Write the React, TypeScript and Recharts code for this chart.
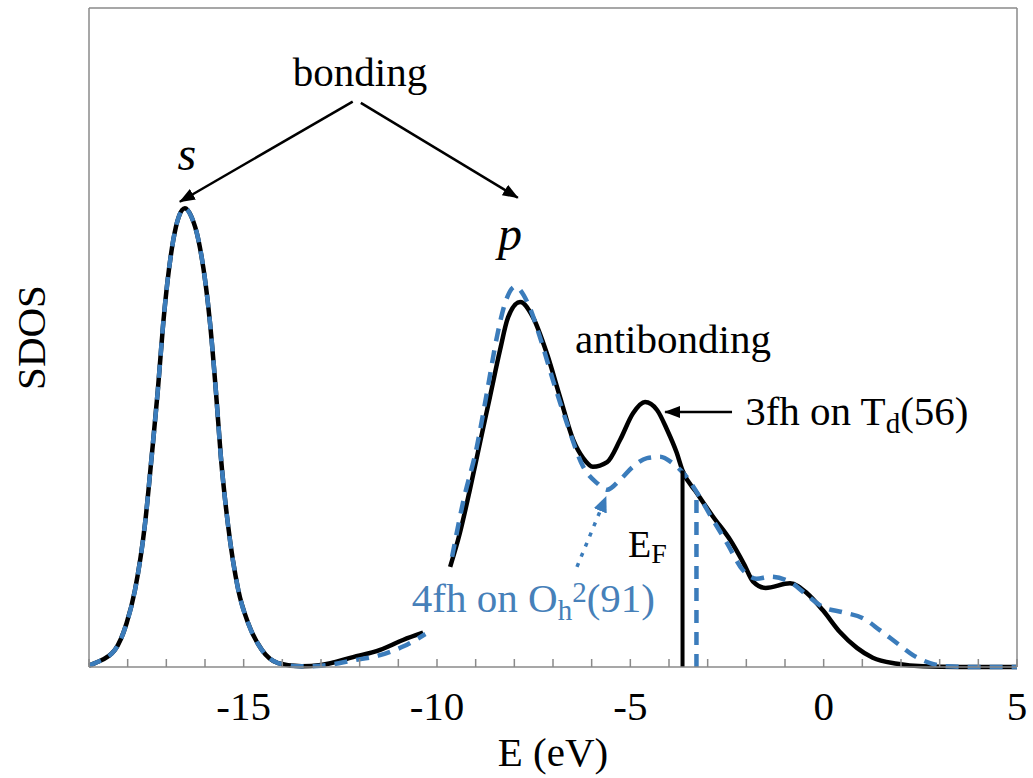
import React from "react"
import { LineChart, Line, XAxis, YAxis, ReferenceLine, ReferenceDot } from "recharts"

const FONT = '"Liberation Serif", "Times New Roman", serif'
const BLUE = "#3b7cbb"
const TEXT_BLUE = "#4680b9"
const AXIS = "#8a8a8a"

// 3fh on Td(56) - solid black
const eTd = [
  -19.0, -18.84, -18.33, -18.03, -17.81, -17.55, -17.38, -17.22, -17.08, -16.82, -16.68, -16.52,
  -16.35, -16.17, -15.87, -15.72, -15.59, -15.41, -15.14, -14.88, -14.53, -14.11, -13.5, -13.0,
  -12.17, -11.47, -10.88, -10.36, -10.0, -9.66, -9.41, -9.15, -8.89, -8.63, -8.37, -8.16, -7.85,
  -7.52, -7.16, -6.82, -6.48, -6.22, -5.97, -5.6, -5.27, -4.93, -4.62, -4.31, -4.05, -3.8, -3.65,
  -3.28, -2.86, -2.42, -2.05, -1.83, -1.5, -0.87, -0.43, -0.02, 0.42, 0.86, 1.27, 1.9, 2.57, 3.5, 5.0,
]
const sdosTd = [
  0.002, 0.006, 0.026, 0.066, 0.117, 0.218, 0.319, 0.42, 0.522, 0.648, 0.683, 0.696,
  0.683, 0.648, 0.522, 0.42, 0.319, 0.218, 0.117, 0.066, 0.026, 0.006, 0.001, 0.003,
  0.015, 0.026, 0.041, 0.052, null, 0.152, 0.203, 0.269, 0.34, 0.41, 0.481, 0.531, 0.554,
  0.531, 0.476, 0.41, 0.345, 0.317, 0.304, 0.311, 0.344, 0.385, 0.402, 0.39, 0.36, 0.325, 0.298,
  0.264, 0.228, 0.193, 0.155, 0.13, 0.12, 0.127, 0.112, 0.086, 0.053, 0.029, 0.014, 0.005, 0.001, 0, 0,
]

// 4fh on Oh2(91) - dashed blue
const eOh = [
  -19.0, -18.84, -18.33, -18.03, -17.81, -17.55, -17.38, -17.22, -17.08, -16.82, -16.68, -16.52,
  -16.35, -16.17, -15.87, -15.72, -15.59, -15.41, -15.14, -14.88, -14.53, -14.11, -13.5, -13.0,
  -12.17, -11.47, -10.88, -10.3, -10.0, -9.61, -9.33, -8.97, -8.71, -8.45, -8.24, -7.98, -7.65,
  -7.34, -7.0, -6.64, -6.22, -5.86, -5.6, -5.27, -4.93, -4.57, -4.23, -3.9, -3.54, -3.29,
  -2.86, -2.5, -2.09, -1.73, -1.39, -0.87, -0.43, -0.02, 0.5, 1.02, 1.45, 1.9, 2.31, 2.75, 3.19, 4.0, 5.0,
]
const sdosOh = [
  0.002, 0.006, 0.026, 0.066, 0.117, 0.218, 0.319, 0.42, 0.522, 0.648, 0.683, 0.696,
  0.683, 0.648, 0.522, 0.42, 0.319, 0.218, 0.117, 0.066, 0.026, 0.006, 0.001, 0.002,
  0.01, 0.018, 0.031, 0.05, null, 0.167, 0.249, 0.334, 0.416, 0.501, 0.552, 0.577, 0.552,
  0.501, 0.435, 0.37, 0.304, 0.279, 0.269, 0.284, 0.304, 0.317, 0.319, 0.309, 0.288, 0.266,
  0.223, 0.188, 0.147, 0.134, 0.137, 0.129, 0.109, 0.091, 0.083, 0.074, 0.056, 0.036, 0.018, 0.006, 0.001, 0, 0,
]

const xTicks = [-19, -18, -17, -16, -15, -14, -13, -12, -11, -10, -9, -8, -7, -6, -5, -4, -3, -2, -1, 0, 1, 2, 3, 4, 5]
const xLabels = [-15, -10, -5, 0, 5]

// Fermi levels
const efTd = -3.65
const efOh = -3.29

const tdData = eTd.map((e, i) => ({ e, v: sdosTd[i] }))
const ohData = eOh.map((e, i) => ({ e, v: sdosOh[i] }))
const efTdTop = sdosTd[eTd.indexOf(efTd)] as number
const efOhTop = sdosOh[eOh.indexOf(efOh)] as number

const txt = (content: React.ReactNode, opts: any = {}) => (p: any) => (
  <text
    x={p.cx}
    y={p.cy}
    fontFamily={FONT}
    fontSize={opts.size || 41}
    fontStyle={opts.italic ? "italic" : "normal"}
    fill={opts.color || "#000"}
    textAnchor={opts.anchor || "start"}
  >
    {content}
  </text>
)

export default function App() {
  return (
    <div style={{ position: "absolute", left: 0, top: 0 }}>
      <svg width={0} height={0} style={{ position: "absolute" }}>
        <defs>
          <marker id="headBlack" markerWidth={16} markerHeight={12} refX={15} refY={6} orient="auto" markerUnits="userSpaceOnUse">
            <path d="M0,0 L16,6 L0,12 z" fill="#000" />
          </marker>
          <marker id="headBlue" markerWidth={16} markerHeight={14} refX={15} refY={7} orient="auto" markerUnits="userSpaceOnUse">
            <path d="M0,0 L16,7 L0,14 z" fill={BLUE} />
          </marker>
        </defs>
      </svg>
      <LineChart width={1033} height={778} margin={{ top: 0, right: 0, bottom: 0, left: 0 }}>
        <XAxis
          dataKey="e"
          type="number"
          domain={[-19, 5]}
          ticks={xTicks}
          interval={0}
          height={111}
          tickSize={-8}
          tickMargin={32}
          tickFormatter={(v: number) => (xLabels.includes(v) ? String(v) : "")}
          tick={{ fill: "#000", fontSize: 41, fontFamily: FONT }}
          axisLine={{ stroke: AXIS, strokeWidth: 1.5 }}
          tickLine={{ stroke: AXIS, strokeWidth: 1.5 }}
          label={(p: any) => (
            <text
              x={p.viewBox.x + p.viewBox.width / 2}
              y={766}
              textAnchor="middle"
              fontFamily={FONT}
              fontSize={41}
              fill="#000"
            >
              E (eV)
            </text>
          )}
        />
        <XAxis
          xAxisId="top"
          orientation="top"
          dataKey="e"
          type="number"
          domain={[-19, 5]}
          ticks={xTicks}
          interval={0}
          height={8}
          tickSize={-8}
          tickFormatter={() => ""}
          axisLine={{ stroke: AXIS, strokeWidth: 1.5 }}
          tickLine={{ stroke: AXIS, strokeWidth: 1.5 }}
        />
        <YAxis
          type="number"
          domain={[0, 1]}
          width={89}
          tick={false}
          tickLine={false}
          axisLine={{ stroke: AXIS, strokeWidth: 1.5 }}
          label={(p: any) => (
            <text
              x={0}
              y={0}
              transform={`translate(45, ${p.viewBox.y + p.viewBox.height / 2}) rotate(-90)`}
              textAnchor="middle"
              fontFamily={FONT}
              fontSize={41}
              fill="#000"
            >
              SDOS
            </text>
          )}
        />
        <YAxis
          yAxisId="right"
          orientation="right"
          type="number"
          domain={[0, 1]}
          width={16}
          tick={false}
          tickLine={false}
          axisLine={{ stroke: AXIS, strokeWidth: 1.5 }}
        />

        <Line data={tdData} dataKey="v" type="monotone" stroke="#000" strokeWidth={4.5} dot={false} activeDot={false} connectNulls={false} isAnimationActive={false} />
        <Line data={ohData} dataKey="v" type="monotone" stroke={BLUE} strokeWidth={4.5} strokeDasharray="13 9" dot={false} activeDot={false} connectNulls={false} isAnimationActive={false} />

        {/* Fermi levels */}
        <ReferenceLine segment={[{ x: efTd, y: 0 }, { x: efTd, y: efTdTop }]} stroke="#000" strokeWidth={4} />
        <ReferenceLine segment={[{ x: efOh, y: 0 }, { x: efOh, y: efOhTop }]} stroke={BLUE} strokeWidth={4.5} strokeDasharray="13 9" />

        {/* arrows */}
        <ReferenceLine segment={[{ x: -12.18, y: 0.858 }, { x: -16.65, y: 0.706 }]} stroke="#000" strokeWidth={2.5} markerEnd="url(#headBlack)" />
        <ReferenceLine segment={[{ x: -11.97, y: 0.856 }, { x: -7.91, y: 0.712 }]} stroke="#000" strokeWidth={2.5} markerEnd="url(#headBlack)" />
        <ReferenceLine segment={[{ x: -2.37, y: 0.387 }, { x: -4.1, y: 0.387 }]} stroke="#000" strokeWidth={2.5} markerEnd="url(#headBlack)" />
        <ReferenceLine segment={[{ x: -6.38, y: 0.152 }, { x: -5.63, y: 0.258 }]} stroke={BLUE} strokeWidth={3.5} strokeDasharray="4 7" markerEnd="url(#headBlue)" />

        {/* labels */}
        <ReferenceDot x={-11.99} y={0.8816} r={0} shape={txt("bonding", { anchor: "middle" })} />
        <ReferenceDot x={-16.47} y={0.754} r={0} shape={txt("s", { anchor: "middle", italic: true, size: 48 })} />
        <ReferenceDot x={-8.11} y={0.633} r={0} shape={txt("p", { anchor: "middle", italic: true, size: 48 })} />
        <ReferenceDot x={-6.43} y={0.4765} r={0} shape={txt("antibonding")} />
        <ReferenceDot
          x={-2.03}
          y={0.367}
          r={0}
          shape={txt(
            <>
              3fh on T<tspan fontSize={29} dy={8}>d</tspan>
              <tspan dy={-8}>(56)</tspan>
            </>
          )}
        />
        <ReferenceDot
          x={-5.06}
          y={0.167}
          r={0}
          shape={txt(
            <>
              E<tspan fontSize={28} dy={6}>F</tspan>
            </>,
            { size: 38 }
          )}
        />
        <ReferenceDot
          x={-10.65}
          y={0.0835}
          r={0}
          shape={txt(
            <>
              4fh on O<tspan fontSize={29} dy={8}>h</tspan>
              <tspan fontSize={29} dy={-18}>2</tspan>
              <tspan dy={10}>(91)</tspan>
            </>,
            { color: TEXT_BLUE }
          )}
        />
      </LineChart>
    </div>
  )
}
